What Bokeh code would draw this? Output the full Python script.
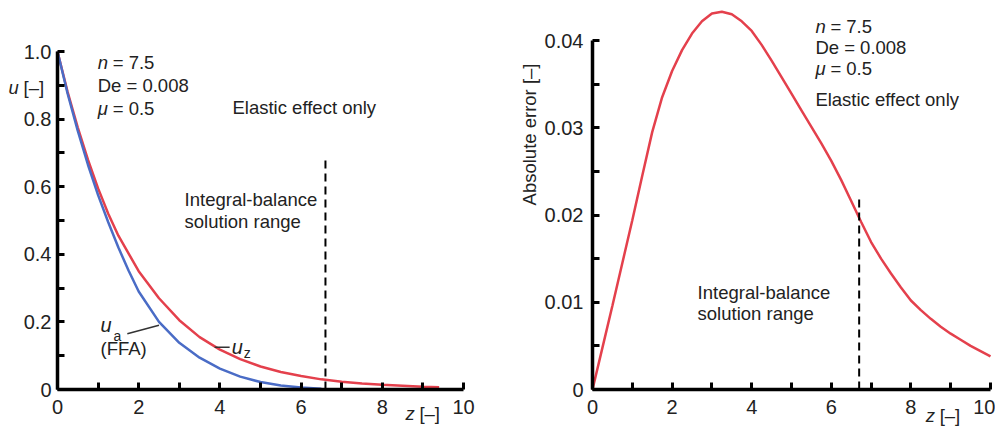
import math
from bokeh.plotting import figure
from bokeh.models import Range1d, FixedTicker, Label
from bokeh.layouts import row
from bokeh.embed import file_html
from bokeh.resources import INLINE

# ---- Left panel data: velocity profiles ----
z_red = [0, 0.25, 0.5, 0.75, 1.0, 1.25, 1.5, 2.0, 2.5, 3.0, 3.5, 4.0, 4.5,
         5.0, 5.5, 6.0, 6.5, 7.0, 7.5, 8.0, 8.5, 9.0, 9.4]
u_z = [1.0, 0.88, 0.775, 0.68, 0.595, 0.52, 0.455, 0.35, 0.27, 0.205, 0.155,
       0.118, 0.09, 0.068, 0.052, 0.04, 0.03, 0.023, 0.018, 0.014, 0.011,
       0.008, 0.007]
z_blue = [0, 0.25, 0.5, 0.75, 1.0, 1.25, 1.5, 1.75, 2.0, 2.5, 3.0, 3.5, 4.0,
          4.5, 5.0, 5.5, 6.0, 6.5]
u_a = [1.0, 0.875, 0.765, 0.665, 0.575, 0.495, 0.42, 0.352, 0.29, 0.2,
       0.138, 0.094, 0.062, 0.038, 0.022, 0.012, 0.006, 0.002]
dash_left_z = 6.6
dash_left_top = 0.68

# ---- Right panel data: absolute error ----
z_err = [0, 0.25, 0.5, 0.75, 1.0, 1.25, 1.5, 1.75, 2.0, 2.25, 2.5, 2.75, 3.0,
         3.25, 3.5, 3.75, 4.0, 4.25, 4.5, 4.75, 5.0, 5.25, 5.5, 5.75, 6.0,
         6.25, 6.5, 6.75, 7.0, 7.25, 7.5, 7.75, 8.0, 8.25, 8.5, 8.75, 9.0,
         9.25, 9.5, 9.75, 10.0]
abs_err = [0, 0.0048, 0.0096, 0.0145, 0.0194, 0.0245, 0.0295, 0.0335, 0.0365,
           0.0389, 0.0408, 0.0422, 0.0431, 0.0433, 0.0430, 0.0422, 0.0411,
           0.0395, 0.0377, 0.0358, 0.0339, 0.0320, 0.0301, 0.0282, 0.0262,
           0.0240, 0.0216, 0.0192, 0.0169, 0.0150, 0.0133, 0.0117, 0.0102,
           0.0091, 0.0081, 0.0072, 0.0064, 0.0057, 0.0050, 0.0044, 0.0038]
dash_right_z = 6.7
dash_right_top = 0.0221

# ---- Ticks ----
x_ticks = [0, 2, 4, 6, 8, 10]
x_minor = [1, 3, 5, 7, 9]
u_ticks = [0, 0.2, 0.4, 0.6, 0.8, 1.0]
u_labels = ["0", "0.2", "0.4", "0.6", "0.8", "1.0"]
u_minor = [0.1, 0.3, 0.5, 0.7, 0.9]
e_ticks = [0, 0.01, 0.02, 0.03, 0.04]
e_labels = ["0", "0.01", "0.02", "0.03", "0.04"]
e_minor = [0.005, 0.015, 0.025, 0.035]

RED = "#e4404c"
BLUE = "#4a6cc6"
TXT = "#222222"
FONT = "Liberation Sans"
TFS = "18.5px"

H = 426
W1, W2 = 483, 512
# pixel geometry of the plotting areas
L_X0, L_SX = 57, 40.6        # left panel: z=0 pixel, px per unit z
L_Y0, L_SY = 389, 338        # u=0 pixel row, px per unit u
R_X0, R_SX = 592 - W1, 39.8  # right panel (canvas coords)
R_Y0, R_SY = 389, 8725


def style(p, xt, xm, yt, ym, ylabels, ybounds, ystand):
    p.xaxis.ticker = FixedTicker(ticks=xt, minor_ticks=xm)
    p.yaxis.ticker = FixedTicker(ticks=yt, minor_ticks=ym)
    p.yaxis.major_label_overrides = {t: l for t, l in zip(yt, ylabels)}
    p.xaxis.bounds = (0, 10)
    p.yaxis.bounds = ybounds
    p.xaxis.fixed_location = 0
    p.yaxis.fixed_location = 0
    for ax in (p.xaxis[0], p.yaxis[0]):
        ax.axis_line_width = 3.5
        ax.axis_line_color = "black"
        ax.major_tick_in = 7
        ax.major_tick_out = 0
        ax.minor_tick_in = 7
        ax.minor_tick_out = 0
        ax.major_tick_line_width = 3
        ax.minor_tick_line_width = 3
        ax.major_tick_line_color = "black"
        ax.minor_tick_line_color = "black"
        ax.major_label_text_font = FONT
        ax.major_label_text_font_size = "20px"
        ax.major_label_text_color = TXT
    p.xaxis.major_label_standoff = 10
    p.yaxis.major_label_standoff = ystand
    p.xgrid.visible = False
    p.ygrid.visible = False
    p.outline_line_color = None
    p.background_fill_color = "white"
    p.border_fill_color = "white"


def lab(p, x, y, text, size=TFS, fstyle="normal", align="left",
        xo=0, yo=0, angle=0.0):
    p.add_layout(Label(x=x, y=y, text=text, text_font=FONT,
                       text_font_size=size, text_font_style=fstyle,
                       text_color=TXT, text_align=align,
                       text_baseline="middle", x_offset=xo, y_offset=yo,
                       angle=angle))


# ================= Left panel =================
p1 = figure(width=W1, height=H,
            x_range=Range1d(-L_X0 / L_SX, (W1 - L_X0) / L_SX),
            y_range=Range1d(-(H - L_Y0) / L_SY, L_Y0 / L_SY),
            output_backend="svg", toolbar_location=None, min_border=0)
style(p1, x_ticks, x_minor, u_ticks, u_minor, u_labels, (0, 1.0), 6)

p1.line(z_red, u_z, line_color=RED, line_width=2.5)
p1.line(z_blue, u_a, line_color=BLUE, line_width=2.5)
p1.line([dash_left_z, dash_left_z], [0, dash_left_top], line_color="black",
        line_width=2, line_dash="8 5")

# leader lines
p1.line([1.72, 2.5], [0.165, 0.19], line_color="#333333", line_width=1.5)
p1.line([3.87, 4.24], [0.125, 0.125], line_color="#333333", line_width=1.5)

# axis labels
lab(p1, -1.207, 0.893, "u", fstyle="italic")
lab(p1, -1.207, 0.893, "[–]", xo=15)
lab(p1, 8.57, -0.071, "z", fstyle="italic")
lab(p1, 8.57, -0.071, "[–]", xo=14)

# parameter block
lab(p1, 0.99, 0.967, "n", fstyle="italic")
lab(p1, 0.99, 0.967, "= 7.5", xo=15)
lab(p1, 0.99, 0.90, "De = 0.008")
lab(p1, 0.99, 0.832, "μ", fstyle="italic")
lab(p1, 0.99, 0.832, "= 0.5", xo=15)
lab(p1, 4.31, 0.834, "Elastic effect only")
lab(p1, 3.13, 0.562, "Integral-balance")
lab(p1, 3.13, 0.497, "solution range")

# curve labels
lab(p1, 1.06, 0.19, "u", size="20px", fstyle="italic")
lab(p1, 1.06, 0.158, "a", size="14px", xo=13)
lab(p1, 1.06, 0.121, "(FFA)")
lab(p1, 4.29, 0.127, "u", size="20px", fstyle="italic")
lab(p1, 4.29, 0.107, "z", size="14px", xo=12)

# ================= Right panel =================
p2 = figure(width=W2, height=H,
            x_range=Range1d(-R_X0 / R_SX, (W2 - R_X0) / R_SX),
            y_range=Range1d(-(H - R_Y0) / R_SY, R_Y0 / R_SY),
            output_backend="svg", toolbar_location=None, min_border=0)
style(p2, x_ticks, x_minor, e_ticks, e_minor, e_labels, (0, 0.04), 9)

p2.line(z_err, abs_err, line_color=RED, line_width=2.5)
p2.line([dash_right_z, dash_right_z], [0, dash_right_top], line_color="black",
        line_width=2, line_dash="8 5")

lab(p2, -1.583, 0.02923, "Absolute error [–]", align="center",
    angle=math.pi / 2)
lab(p2, 8.37, -0.003, "z", fstyle="italic")
lab(p2, 8.37, -0.003, "[–]", xo=14)

lab(p2, 5.6, 0.0416, "n", fstyle="italic")
lab(p2, 5.6, 0.0416, "= 7.5", xo=15)
lab(p2, 5.6, 0.0392, "De = 0.008")
lab(p2, 5.6, 0.0368, "μ", fstyle="italic")
lab(p2, 5.6, 0.0368, "= 0.5", xo=15)
lab(p2, 5.6, 0.0332, "Elastic effect only")
lab(p2, 2.64, 0.01115, "Integral-balance")
lab(p2, 2.64, 0.0087, "solution range")

layout = row(p1, p2)
open("out.html", "w").write(file_html(layout, INLINE))
